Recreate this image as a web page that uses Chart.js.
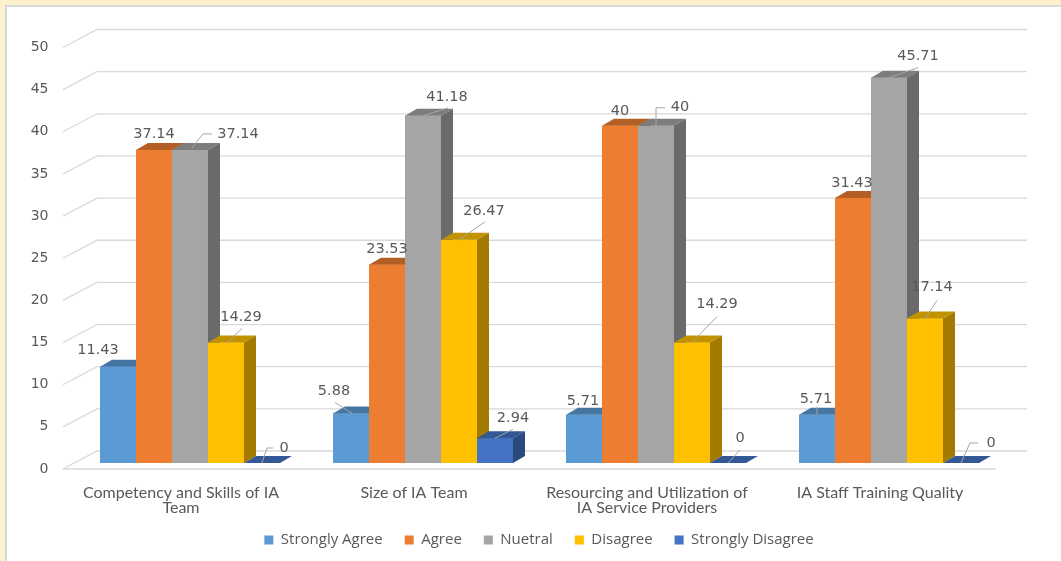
<!DOCTYPE html>
<html>
<head>
<meta charset="utf-8">
<script src="https://cdn.jsdelivr.net/npm/chart.js@4.4.1/dist/chart.umd.min.js"></script>
<style>
  html, body { margin: 0; padding: 0; background: #fef2cc; overflow: hidden; }
  #frame { position: absolute; left: 5px; top: 5px; width: 1080px; height: 580px; background: #fff; border: 2px solid #d9d9d9; }
  #wrap { position: absolute; left: 0; top: 0; width: 1061px; height: 561px; }
</style>
</head>
<body>
<div id="frame"></div>
<div id="wrap"><canvas id="chart"></canvas></div>
<script>
const categories = [
    ['Competency and Skills of IA', 'Team'],
    'Size of IA Team',
    ['Resourcing and Utilization of', 'IA Service Providers'],
    'IA Staff Training Quality'
];
const seriesNames = ['Strongly Agree', 'Agree', 'Nuetral', 'Disagree', 'Strongly Disagree'];
const stronglyAgree = [11.43, 5.88, 5.71, 5.71];
const agree = [37.14, 23.53, 40, 31.43];
const neutral = [37.14, 41.18, 40, 45.71];
const disagree = [14.29, 26.47, 14.29, 17.14];
const stronglyDisagree = [0, 2.94, 0, 0];
const yMin = 0, yMax = 50, yStep = 5;

const seriesColors = ['#5b9bd5', '#ed7d31', '#a5a5a5', '#ffc000', '#4472c4'];

// label placement relative to the bar's top-centre: [dx, dy, leader points]
const labelPlace = [
    [[-20, -16, null], [-17, -22, [[1, 0], [-16, -11]]], [-1, -14, null], [-1, -16, [[0, 0], [0, -8]]]],
    [[0, -16, null], [0, -15, null], [0, -15, null], [-1, -15, null]],
    [[48, -16, [[2, -2], [13, -16], [22, -16]]], [24, -19, [[0, 0], [25, -8]]], [24, -19, [[0, 0], [0, -18], [9, -18]]], [29, -21, [[0, 0], [29, -10]]]],
    [[15, -25, [[1, 0], [16, -14]]], [25, -29, [[0, 0], [26, -18]]], [25, -38, [[0, 0], [25, -26]]], [7, -31, [[0, 0], [12, -18]]]],
    [[22, -15, [[0, 0], [5, -15], [11, -15]]], [18, -20, [[0, 0], [18, -9]]], [12, -25, [[0, 0], [12, -13]]], [30, -20, [[0, 0], [9, -20], [17, -20]]]]
];

const DX = 12, DY = 7;

function shade(hex, f) {
    const n = parseInt(hex.slice(1), 16);
    const r = Math.round(((n >> 16) & 255) * f);
    const g = Math.round(((n >> 8) & 255) * f);
    const b = Math.round((n & 255) * f);
    return `rgb(${r}, ${g}, ${b})`;
}

function poly(ctx, pts) {
    ctx.beginPath();
    ctx.moveTo(pts[0][0], pts[0][1]);
    for (let k = 1; k < pts.length; k++) ctx.lineTo(pts[k][0], pts[k][1]);
    ctx.closePath();
    ctx.fill();
}

const depthPlugin = {
    id: 'depth',
    beforeDatasetsDraw(chart) {
        const {ctx, chartArea: a, scales: {y}} = chart;
        ctx.save();
        ctx.strokeStyle = '#d9d9d9';
        ctx.lineWidth = 1.3;
        y.ticks.forEach(t => {
            const py = y.getPixelForValue(t.value);
            ctx.beginPath();
            ctx.moveTo(a.left - 10.5, py + 6);
            ctx.lineTo(a.left + 23.5, py - 12);
            ctx.lineTo(a.right + 21.5, py - 12);
            ctx.stroke();
        });
        const p0 = y.getPixelForValue(0);
        ctx.beginPath();
        ctx.moveTo(a.left - 10.5, p0 + 6);
        ctx.lineTo(a.right - 9.5, p0 + 6);
        ctx.stroke();
        ctx.restore();
    },
    afterDatasetsDraw(chart) {
        const {ctx} = chart;
        const sets = chart.data.datasets;
        ctx.save();
        // repaint bars left to right so each one hides the side of the previous
        for (let i = 0; i < chart.data.labels.length; i++) {
            sets.forEach((ds, d) => {
                const el = chart.getDatasetMeta(d).data[i];
                const l = el.x - el.width / 2, r = el.x + el.width / 2, t = el.y, b = el.base;
                ctx.fillStyle = ds.backgroundColor;
                ctx.fillRect(l, t, r - l, b - t);
                ctx.fillStyle = shade(ds.backgroundColor, 0.76);
                poly(ctx, [[l, t], [r, t], [r + DX, t - DY], [l + DX, t - DY]]);
                ctx.fillStyle = shade(ds.backgroundColor, 0.64);
                poly(ctx, [[r, t], [r + DX, t - DY], [r + DX, b - DY], [r, b]]);
            });
        }
        // data labels
        ctx.font = '14.5px "DejaVu Sans"';
        ctx.textAlign = 'center';
        ctx.textBaseline = 'middle';
        sets.forEach((ds, d) => {
            chart.getDatasetMeta(d).data.forEach((el, i) => {
                const [dx, dy, leader] = labelPlace[d][i];
                if (leader) {
                    ctx.strokeStyle = '#a6a6a6';
                    ctx.lineWidth = 1;
                    ctx.beginPath();
                    leader.forEach(([lx, ly], k) => {
                        if (k === 0) ctx.moveTo(el.x + lx, el.y + ly);
                        else ctx.lineTo(el.x + lx, el.y + ly);
                    });
                    ctx.stroke();
                }
                ctx.fillStyle = '#595959';
                ctx.fillText(String(ds.data[i]), el.x + dx, el.y + dy);
            });
        });
        ctx.restore();
    }
};

const seriesValues = [stronglyAgree, agree, neutral, disagree, stronglyDisagree];

new Chart(document.getElementById('chart'), {
    type: 'bar',
    data: {
        labels: categories,
        datasets: seriesNames.map((name, k) => ({
            label: name,
            data: seriesValues[k],
            backgroundColor: seriesColors[k],
            borderWidth: 0
        }))
    },
    options: {
        responsive: true,
        maintainAspectRatio: false,
        devicePixelRatio: 1,
        animation: {duration: 0},
        datasets: {bar: {barPercentage: 1, categoryPercentage: 0.7725}},
        layout: {padding: {left: 17, right: 0, top: 41.5, bottom: 3.5}},
        plugins: {
            tooltip: {enabled: false},
            legend: {
                position: 'bottom',
                labels: {
                    boxWidth: 9,
                    boxHeight: 9,
                    padding: 22,
                    color: '#595959',
                    font: {family: '"Open Sans"', size: 15}
                }
            }
        },
        scales: {
            x: {
                grid: {display: false, drawTicks: false},
                border: {display: false},
                ticks: {
                    color: '#595959',
                    font: {family: 'Lato', size: 16, lineHeight: 0.94},
                    labelOffset: -9,
                    padding: 22.5,
                    maxRotation: 0,
                    autoSkip: false
                },
                afterFit(scale) {
                    scale.height = 47.5;
                    // two-line labels run a little past the box; don't clip them
                    scale._computeLabelArea = () => null;
                }
            },
            y: {
                min: yMin,
                max: yMax,
                grid: {display: false, drawTicks: false},
                border: {display: false},
                ticks: {
                    stepSize: yStep,
                    color: '#595959',
                    font: {family: '"DejaVu Sans"', size: 14},
                    padding: 25,
                    labelOffset: 6
                },
                afterFit(scale) { scale.width = 56.5; }
            },
            // empty right-hand box that keeps the plot clear of the right edge
            yRight: {
                type: 'linear',
                position: 'right',
                grid: {display: false, drawTicks: false},
                border: {display: false},
                ticks: {display: false},
                afterFit(scale) { scale.width = 55.5; }
            }
        }
    },
    plugins: [depthPlugin]
});
</script>
</body>
</html>
